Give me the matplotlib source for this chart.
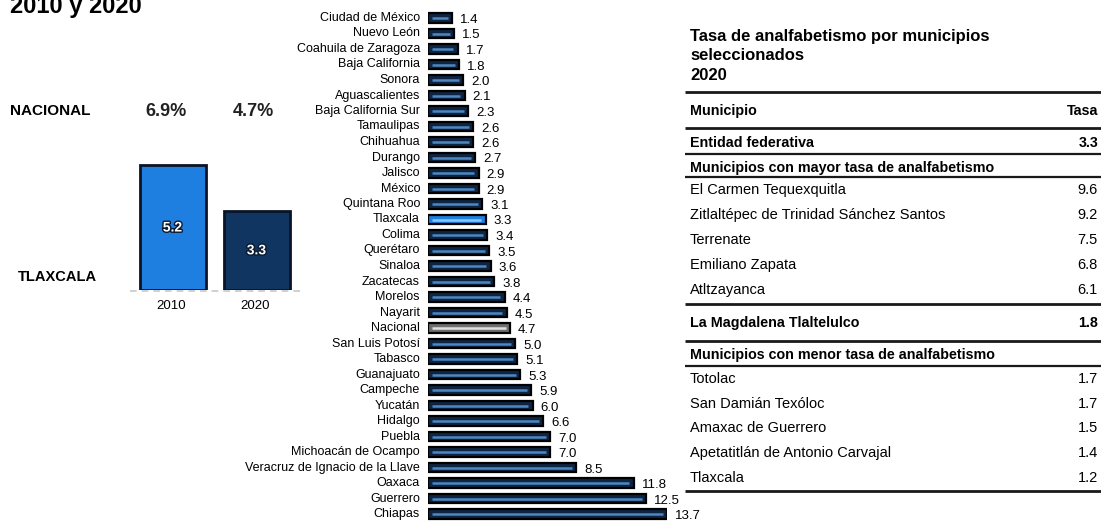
import matplotlib

matplotlib.use("agg")
import matplotlib.pyplot as plt
import matplotlib.patheffects as pe

plt.rcParams["font.family"] = ["Liberation Sans", "DejaVu Sans"]

# Tasa de analfabetismo por entidad federativa, 2020
estados = [
    "Ciudad de México", "Nuevo León", "Coahuila de Zaragoza", "Baja California",
    "Sonora", "Aguascalientes", "Baja California Sur", "Tamaulipas", "Chihuahua",
    "Durango", "Jalisco", "México", "Quintana Roo", "Tlaxcala", "Colima",
    "Querétaro", "Sinaloa", "Zacatecas", "Morelos", "Nayarit", "Nacional",
    "San Luis Potosí", "Tabasco", "Guanajuato", "Campeche", "Yucatán", "Hidalgo",
    "Puebla", "Michoacán de Ocampo", "Veracruz de Ignacio de la Llave", "Oaxaca",
    "Guerrero", "Chiapas",
]
tasas = [
    1.4, 1.5, 1.7, 1.8, 2.0, 2.1, 2.3, 2.6, 2.6, 2.7, 2.9, 2.9, 3.1, 3.3, 3.4,
    3.5, 3.6, 3.8, 4.4, 4.5, 4.7, 5.0, 5.1, 5.3, 5.9, 6.0, 6.6, 7.0, 7.0, 8.5,
    11.8, 12.5, 13.7,
]

# Tlaxcala 2010 vs 2020
anios = ["2010", "2020"]
tlaxcala_tasas = [5.2, 3.3]
nacional_tasas = ["6.9%", "4.7%"]

# Tabla de municipios
entidad_tasa = 3.3
mayor_municipios = [
    "El Carmen Tequexquitla", "Zitlaltépec de Trinidad Sánchez Santos",
    "Terrenate", "Emiliano Zapata", "Atltzayanca",
]
mayor_tasas = [9.6, 9.2, 7.5, 6.8, 6.1]
capital_nombre = "La Magdalena Tlaltelulco"
capital_tasa = 1.8
menor_municipios = [
    "Totolac", "San Damián Texóloc", "Amaxac de Guerrero",
    "Apetatitlán de Antonio Carvajal", "Tlaxcala",
]
menor_tasas = [1.7, 1.7, 1.5, 1.4, 1.2]

W, H = 1101, 521
fig = plt.figure(figsize=(W / 100, H / 100), dpi=100)

# overlay axes in pixel coordinates for free text and table rules
ax0 = fig.add_axes([0, 0, 1, 1])
ax0.set_xlim(0, W)
ax0.set_ylim(H, 0)
ax0.axis("off")

# ---- horizontal bars (states) ----
row0, row_step = 18, 15.5
n = len(estados)
top_px = row0 - row_step / 2
bot_px = row0 + (n - 1) * row_step + row_step / 2
x0_px, xmax_px = 428, 667
ax1 = fig.add_axes([x0_px / W, 1 - bot_px / H, (xmax_px - x0_px) / W, (bot_px - top_px) / H])
ax1.set_xlim(0, 13.7)
ax1.set_ylim(n - 0.5, -0.5)
ax1.axis("off")

for i, (name, v) in enumerate(zip(estados, tasas)):
    if name == "Tlaxcala":
        fill, stripe = "#1f7fe0", "#86c8ff"
    elif name == "Nacional":
        fill, stripe = "#6e6e6e", "#e0e0e0"
    else:
        fill, stripe = "#0d2443", "#4f86c0"
    ax1.barh(i, v, height=0.62, color=fill, edgecolor="black", linewidth=1.6)
    ax1.plot([0.25, v - 0.25], [i, i], color=stripe, lw=1.8, solid_capstyle="butt")
    ax1.annotate(name, (0, i), xytext=(-8, 0), textcoords="offset pixels",
                 ha="right", va="center", fontsize=9, annotation_clip=False)
    ax1.annotate(f"{v:.1f}", (v, i), xytext=(8, -2), textcoords="offset pixels",
                 ha="left", va="center", fontsize=9.5, annotation_clip=False)

# ---- small vertical bars (Tlaxcala 2010, 2020) ----
base_px, top_small = 290, 150
scale = 125 / 5.2
ax2 = fig.add_axes([130 / W, 1 - base_px / H, 170 / W, (base_px - top_small) / H])
ax2.set_xlim(130, 300)
ax2.set_ylim(0, (base_px - top_small) / scale)
ax2.axis("off")
centers = [172.5, 256.5]
colors = ["#1f7fe0", "#0f3560"]
for c, v, col, yr in zip(centers, tlaxcala_tasas, colors, anios):
    ax2.bar(c, v, width=66, color=col, edgecolor="#0a1426", linewidth=2)
    ax2.text(c, v / 2, f"{v:.1f}", ha="center", va="center", color="white",
             fontsize=10, fontweight="bold",
             path_effects=[pe.withStroke(linewidth=2, foreground="#0a1a30")])
    ax0.text(c - 1, 306, yr, ha="center", va="center", fontsize=9.5)
ax0.plot([130, 300], [291, 291], color="#c8c8c8", lw=1.2, ls=(0, (4, 3)))

ax0.text(10, 13, "2010 y 2020", fontsize=17, fontweight="bold", va="baseline")
ax0.text(10, 111, "NACIONAL", fontsize=11, fontweight="bold", va="center")
for c, t in zip([166, 253], nacional_tasas):
    ax0.text(c, 111, t, fontsize=13, fontweight="bold", va="center", ha="center",
             color="#222222")
ax0.text(18, 277, "TLAXCALA", fontsize=10.5, fontweight="bold", va="center")

# ---- table ----
tx, tr, lx0 = 690, 1098, 685
ax0.text(tx, 37, "Tasa de analfabetismo por municipios", fontsize=12,
         fontweight="bold", va="center")
ax0.text(tx, 55, "seleccionados", fontsize=12, fontweight="bold", va="center")
ax0.text(tx, 75, "2020", fontsize=12, fontweight="bold", va="center")


def rule(y, lw=1.6):
    ax0.plot([lx0, W], [y, y], color="#1a1a1a", lw=lw, solid_capstyle="butt")


def row(y, left, right=None, bold=False):
    w = "bold" if bold else "normal"
    fs = 10.3 if bold else 10.5
    ax0.text(tx, y, left, fontsize=fs, fontweight=w, va="center")
    if right is not None:
        ax0.text(tr, y, right, fontsize=fs, fontweight=w, va="center", ha="right")


rule(92, 2)
row(111, "Municipio", "Tasa", bold=True)
rule(128, 2)
row(143, "Entidad federativa", f"{entidad_tasa:.1f}", bold=True)
rule(154)
row(168, "Municipios con mayor tasa de analfabetismo", bold=True)
rule(177)
for k, (m, v) in enumerate(zip(mayor_municipios, mayor_tasas)):
    row(190 + 25 * k, m, f"{v:.1f}")
rule(304, 2)
row(323, capital_nombre, f"{capital_tasa:.1f}", bold=True)
rule(341, 2)
row(355, "Municipios con menor tasa de analfabetismo", bold=True)
rule(366)
for k, (m, v) in enumerate(zip(menor_municipios, menor_tasas)):
    row(379 + 24.7 * k, m, f"{v:.1f}")
rule(491, 2)

fig.savefig("out.png", dpi=100)
plt.close()
